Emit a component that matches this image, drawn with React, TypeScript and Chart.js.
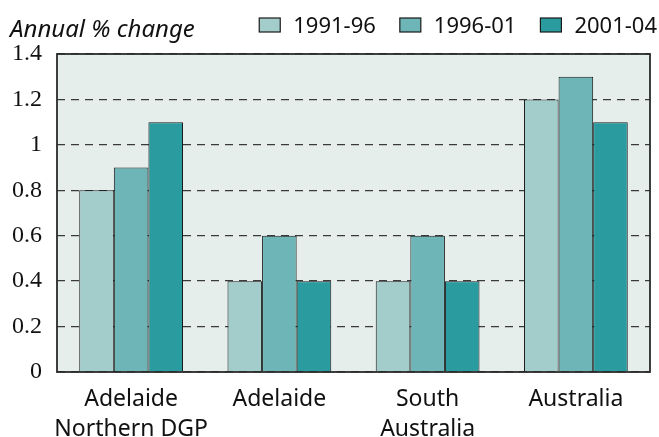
import React, { useEffect, useRef } from "react";
import { Chart, registerables } from "chart.js";
Chart.register(...registerables);

const categories: string[][] = [["Adelaide", "Northern DGP"], ["Adelaide"], ["South", "Australia"], ["Australia"]];
const seriesNames = ["1991-96", "1996-01", "2001-04"];
const s1991 = [0.8, 0.4, 0.4, 1.2];
const s1996 = [0.9, 0.6, 0.6, 1.3];
const s2001 = [1.1, 0.4, 0.4, 1.1];
const colors = ["#a3cdcb", "#6db5b6", "#2a9c9f"];
const yTicks = ["0", "0.2", "0.4", "0.6", "0.8", "1", "1.2", "1.4"];
const yTitle = "Annual % change";

const SANS = "'Noto Sans', 'DejaVu Sans', sans-serif";

const plotDeco = {
  id: "plotDeco",
  beforeDraw(chart: any) {
    const { ctx, chartArea: a } = chart;
    ctx.save();
    ctx.fillStyle = "#e5eeeb";
    ctx.fillRect(a.left, a.top, a.right - a.left, a.bottom - a.top);
    ctx.restore();
  },
  afterDraw(chart: any) {
    const { ctx, chartArea: a } = chart;
    ctx.save();
    ctx.strokeStyle = "#2a2a2a";
    ctx.lineWidth = 1.8;
    ctx.strokeRect(a.left, a.top, a.right - a.left, a.bottom - a.top);
    // axis title
    ctx.fillStyle = "#111";
    ctx.font = "italic 24px " + SANS;
    ctx.textBaseline = "alphabetic";
    ctx.textAlign = "left";
    ctx.fillText(yTitle, 10, 37);
    // legend (from the datasets)
    ctx.font = "22px " + SANS;
    const ds = chart.data.datasets;
    let x = 657;
    const boxW = 21, boxH = 14, gapText = 13, gapItem = 24;
    const items: { label: string; color: string; w: number }[] = ds.map((d: any) => ({
      label: d.label,
      color: d.backgroundColor,
      w: ctx.measureText(d.label).width,
    }));
    for (let i = items.length - 1; i >= 0; i--) {
      const it = items[i];
      const tx = x - it.w;
      const bx = tx - gapText - boxW;
      ctx.fillStyle = it.color;
      ctx.fillRect(bx, 18, boxW, boxH);
      ctx.strokeStyle = "#1a1a1a";
      ctx.lineWidth = 1.2;
      ctx.strokeRect(bx, 18, boxW, boxH);
      ctx.fillStyle = "#111";
      ctx.fillText(it.label, tx, 33);
      x = bx - gapItem;
    }
    ctx.restore();
  },
};

export default function App() {
  const ref = useRef<HTMLCanvasElement>(null);
  useEffect(() => {
    document.body.style.margin = "0";
    const data = [s1991, s1996, s2001];
    const chart = new Chart(ref.current!, {
      type: "bar",
      data: {
        labels: categories,
        datasets: seriesNames.map((n, i) => ({
          label: n,
          data: data[i],
          backgroundColor: colors[i],
          borderColor: "#1a1a1a",
          borderWidth: 1,
          categoryPercentage: 0.7,
          barPercentage: 1.0,
        })),
      },
      options: {
        responsive: false,
        animation: false,
        layout: { padding: { top: 54, right: 9, left: 0, bottom: 0 } },
        plugins: {
          legend: { display: false },
          tooltip: { enabled: false },
        },
        scales: {
          x: {
            grid: { display: false },
            border: { display: false },
            ticks: {
              color: "#111",
              padding: 5,
              maxRotation: 0,
              autoSkip: false,
              font: { size: 23, family: SANS, lineHeight: 1.3 },
            },
            afterFit(s: any) { s.height = 65; },
          },
          y: {
            min: 0,
            max: 1.4,
            ticks: {
              stepSize: 0.2,
              color: "#111",
              padding: 15,
              font: { size: 24, family: "'Liberation Serif', serif" },
              callback: (_v: any, i: number) => yTicks[i],
            },
            grid: {
              color: "#3a3a3a",
              lineWidth: 1.3,
              drawTicks: false,
            },
            border: { display: false, dash: [8, 6] },
            afterFit(s: any) { s.width = 57; },
          },
        },
      },
      plugins: [plotDeco],
    });
    return () => chart.destroy();
  }, []);
  return (
    <div style={{ width: 659, height: 437 }}>
      <canvas ref={ref} width={659} height={437} />
    </div>
  );
}
